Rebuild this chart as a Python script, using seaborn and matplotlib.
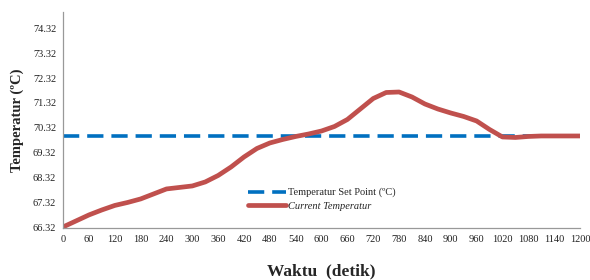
import matplotlib
matplotlib.use("Agg")
import matplotlib.pyplot as plt
import seaborn as sns
import pandas as pd

# time in seconds and readings taken off the chart
waktu = [0, 30, 60, 90, 120, 150, 180, 210, 240, 270, 300, 330, 360, 390, 420,
         450, 480, 510, 540, 570, 600, 630, 660, 690, 720, 750, 780, 810, 840,
         870, 900, 930, 960, 990, 1020, 1050, 1080, 1110, 1140, 1170, 1200]
current_temp = [66.36, 66.60, 66.84, 67.04, 67.22, 67.34, 67.48, 67.68, 67.88,
                67.94, 68.00, 68.16, 68.42, 68.76, 69.16, 69.50, 69.72, 69.86,
                69.98, 70.08, 70.20, 70.38, 70.66, 71.08, 71.50, 71.74, 71.76,
                71.56, 71.28, 71.08, 70.92, 70.78, 70.60, 70.26, 69.96, 69.94,
                69.98, 70.00, 70.00, 70.00, 70.00]
set_point = [70.0] * len(waktu)

x_ticks = list(range(0, 1201, 60))
y_ticks = [66.32, 67.32, 68.32, 69.32, 70.32, 71.32, 72.32, 73.32, 74.32]

df = pd.DataFrame({"Waktu": waktu, "Current": current_temp, "SetPoint": set_point})

sns.set_style("white")
plt.rcParams["font.family"] = ["Liberation Serif", "DejaVu Serif"]

fig = plt.figure(figsize=(5.9, 2.8), dpi=100)
ax = fig.add_axes([0.107, 0.186, 0.876, 0.771])

sns.lineplot(data=df, x="Waktu", y="SetPoint", ax=ax, color="#0070C0",
             linewidth=2.6, linestyle=(0, (4.5, 2.2)),
             label="Temperatur Set Point (ºC)")
sns.lineplot(data=df, x="Waktu", y="Current", ax=ax, color="#C0504D",
             linewidth=3.4, solid_joinstyle="round", solid_capstyle="round",
             label="Current Temperatur")

ax.set_xlim(0, 1200)
ax.set_ylim(66.32, 74.96)
ax.set_xticks(x_ticks)
ax.set_yticks(y_ticks)
ax.set_yticklabels([f"{v:.2f}" for v in y_ticks])
ax.tick_params(axis="both", labelsize=7.5, colors="#333333", length=3,
               width=0.8, direction="out", pad=2)
ax.tick_params(axis="both", labelcolor="#222222")

for s in ["top", "right"]:
    ax.spines[s].set_visible(False)
for s in ["left", "bottom"]:
    ax.spines[s].set_color("#999999")
    ax.spines[s].set_linewidth(0.9)

ax.set_ylabel("Temperatur (ºC)", fontsize=10.5, fontweight="bold", labelpad=6)
ax.set_xlabel("Waktu  (detik)", fontsize=12.5, fontweight="bold", labelpad=14)

leg = ax.legend(loc="upper left", bbox_to_anchor=(0.35, 0.205), frameon=False,
                fontsize=7.5, handlelength=3.6, handletextpad=0.2,
                labelspacing=0.4, borderaxespad=0)
leg.get_texts()[1].set_fontstyle("italic")

fig.savefig("out.png", dpi=100)
